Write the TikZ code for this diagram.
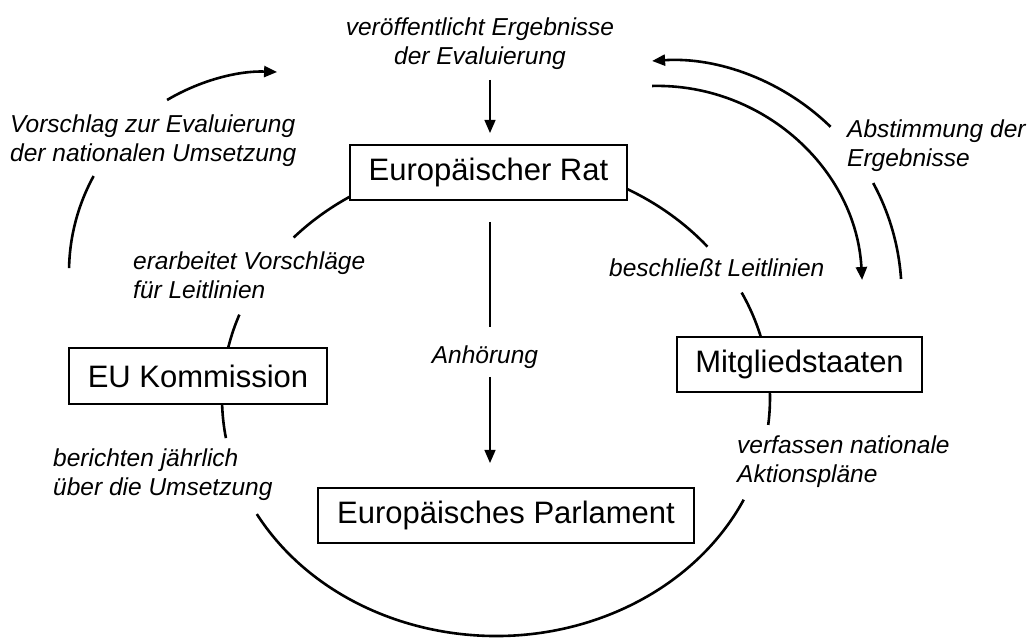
\documentclass[tikz,border=0pt]{standalone}
\usepackage{fontspec}
\setmainfont{Liberation Sans}
\usetikzlibrary{arrows.meta}
\begin{document}
\begin{tikzpicture}[x=1pt,y=1pt,
  box/.style={draw, line width=1.2pt, fill=white, inner sep=0pt, font=\fontsize{31}{37}\selectfont},
  lab/.style={inner sep=0pt, align=left, font=\fontsize{24.5}{29}\selectfont\itshape},
  ring/.style={line width=2.6pt},
  thinline/.style={line width=1.3pt},
  tip/.style={-{Triangle[length=13pt,width=11pt]}}
]
\useasboundingbox (0,0) rectangle (1034,639);
% ring (ellipse) segments
\coordinate (ec) at (496,241);
\draw[ring] (ec) ++(115:274 and 238) arc[start angle=115, end angle=137.6, x radius=274, y radius=238];
\draw[ring] (ec) ++(159.5:274 and 238) arc[start angle=159.5, end angle=189.7, x radius=274, y radius=238];
\draw[ring] (ec) ++(209.2:274 and 238) arc[start angle=209.2, end angle=334.7, x radius=274, y radius=238];
\draw[ring] (ec) ++(353.5:274 and 238) arc[start angle=353.5, end angle=386.3, x radius=274, y radius=238];
\draw[ring] (ec) ++(39.5:274 and 238) arc[start angle=39.5, end angle=65, x radius=274, y radius=238];
% boxes
\node[box, minimum width=277, minimum height=55] (rat) at (488.5,466.5) {Europäischer Rat};
\node[box, minimum width=376, minimum height=55] (parl) at (506,123.5) {Europäisches Parlament};
\node[box, minimum width=258, minimum height=56] (kom) at (198,263) {EU Kommission};
\node[box, minimum width=245, minimum height=55] (mit) at (799.5,274.5) {Mitgliedstaaten};
% labels
\node[lab, align=center, anchor=north] (pub) at (480,621) {veröffentlicht Ergebnisse\\der Evaluierung};
\node[lab, anchor=north west] (vor) at (10,524) {Vorschlag zur Evaluierung\\der nationalen Umsetzung};
\node[lab, anchor=north west] (erar) at (133,387) {erarbeitet Vorschläge\\für Leitlinien};
\node[lab, anchor=north west] (ber) at (53,190) {berichten jährlich\\über die Umsetzung};
\node[lab, anchor=north west] (verf) at (737,203) {verfassen nationale\\Aktionspläne};
\node[lab, anchor=base west] (besch) at (609,362) {beschließt Leitlinien};
\node[lab, anchor=north west] (abst) at (847,519) {Abstimmung der\\Ergebnisse};
\node[lab, anchor=base] (anh) at (485,275) {Anhörung};
% straight connectors
\coordinate (t1) at (490,559);
\coordinate (t2) at (490,506);
\draw[thinline, tip] (t1) -- (t2);
\coordinate (m1) at (490,417);
\coordinate (m2) at (490,312);
\draw[thinline] (m1) -- (m2);
\coordinate (m3) at (490,262);
\coordinate (m4) at (490,176);
\draw[thinline, tip] (m3) -- (m4);
% outer left arc
\coordinate (lc) at (269.4,366.7);
\draw[ring] (lc) ++(178.8:200.4) arc[start angle=178.8, end angle=151.3, radius=200.4];
\draw[ring, tip] (lc) ++(120.7:200.4) arc[start angle=120.7, end angle=87.8, radius=200.4];
% right arcs
\coordinate (ric) at (657.2,347.9);
\draw[ring, tip] (ric) ++(91.4:205.2) arc[start angle=91.4, end angle=3.1, radius=205.2];
\coordinate (roc) at (667.2,344.1);
\draw[ring, tip] (roc) ++(45.8:234.4) arc[start angle=45.8, end angle=93.7, radius=234.4];
\draw[ring] (roc) ++(28.5:234.4) arc[start angle=28.5, end angle=3.9, radius=234.4];
\end{tikzpicture}
\end{document}
